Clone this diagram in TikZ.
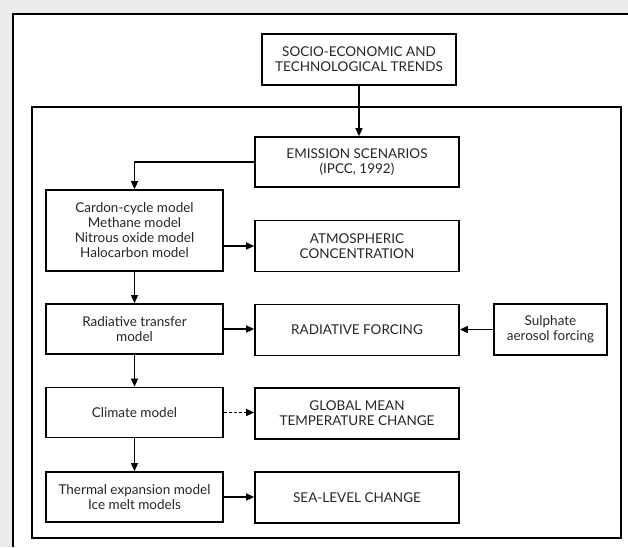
\documentclass[tikz,border=0pt]{standalone}
\usepackage{fontspec}
\setmainfont{Lato}
\usetikzlibrary{arrows.meta}
\begin{document}
\begin{tikzpicture}[x=1pt,y=-1pt,
  box/.style={draw=black, line width=1.7pt, inner sep=0pt, align=center,
    text=black!85, font=\fontsize{13.5}{15}\selectfont},
  rbox/.style={box, minimum width=204pt, minimum height=51pt},
  lbox/.style={box, minimum width=177pt, minimum height=50pt},
  arr/.style={line width=1.3pt, -{Triangle[length=8pt,width=7pt]}},
  frame/.style={line width=1.3pt}]
\useasboundingbox (0,0) rectangle (628,547);
\fill[gray!15] (0,0) rectangle (628,547);
\fill[white] (13,14) rectangle (628,547);
\draw[frame] (13,547) -- (13,14) -- (628,14);
\draw[frame] (32,107) rectangle (621,538);

\node[box, minimum width=194pt, minimum height=51pt] (se) at (359,59.5) {SOCIO-ECONOMIC AND\\TECHNOLOGICAL TRENDS};
\node[rbox, minimum height=50pt] (em) at (357,162) {EMISSION SCENARIOS\\(IPCC, 1992)};
\node[lbox, minimum height=81pt] (cc) at (134.5,230.5) {Cardon-cycle model\\Methane model\\Nitrous oxide model\\Halocarbon model};
\node[rbox] (at) at (357,246) {ATMOSPHERIC\\CONCENTRATION};
\node[lbox] (rt) at (134.5,329) {Radiative transfer\\model};
\node[rbox] (rf) at (357,330) {RADIATIVE FORCING};
\node[box, minimum width=113pt, minimum height=51pt] (su) at (550.5,329.5) {Sulphate\\aerosol forcing};
\node[lbox] (cm) at (134.5,412.5) {Climate model};
\node[rbox] (gm) at (357,413.5) {GLOBAL MEAN\\TEMPERATURE CHANGE};
\node[lbox] (te) at (134.5,497) {Thermal expansion model\\Ice melt models};
\node[rbox] (sl) at (357,497.5) {SEA-LEVEL CHANGE};

\draw[arr] (se.south) -- (se.south |- em.north);
\draw[arr] (em.west) -| (cc.north);
\draw[arr] (cc.east |- at.west) -- (at.west);
\draw[arr] (cc.south) -- (rt.north);
\draw[arr] (rt.east) -- (rt.east -| rf.west);
\draw[arr] (su.west) -- (su.west -| rf.east);
\draw[arr] (rt.south) -- (cm.north);
\draw[arr, dash pattern=on 3pt off 2pt] (cm.east) -- (cm.east -| gm.west);
\draw[arr] (cm.south) -- (te.north);
\draw[arr] (te.east) -- (te.east -| sl.west);
\end{tikzpicture}
\end{document}
